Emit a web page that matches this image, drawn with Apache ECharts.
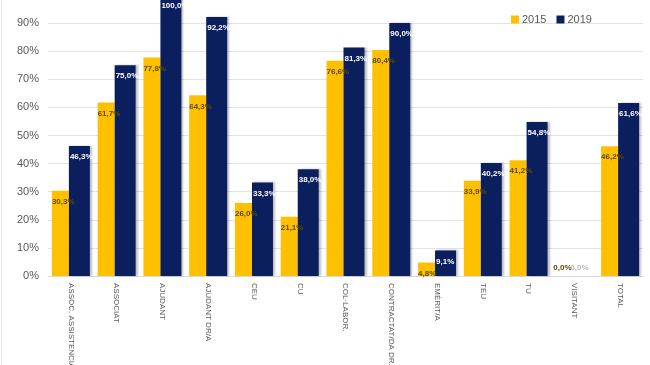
<!DOCTYPE html>
<html>
<head>
<meta charset="utf-8">
<script src="https://cdn.jsdelivr.net/npm/echarts@6/dist/echarts.min.js"></script>
<style>html,body{margin:0;padding:0;background:#fff;}#c{width:650px;height:365px;}</style>
</head>
<body>
<div id="c"></div>
<script>
const categories = ['ASSOC. ASSISTENCIAL', 'ASSOCIAT', 'AJUDANT', 'AJUDANT DR/A', 'CEU', 'CU', 'COL·LABOR.', 'CONTRACTAT/DA DR.', 'EMÈRIT/A', 'TEU', 'TU', 'VISITANT', 'TOTAL'];
const values2015 = [30.3, 61.7, 77.8, 64.3, 26.0, 21.1, 76.6, 80.4, 4.8, 33.9, 41.2, 0.0, 46.2];
const values2019 = [46.3, 75.0, 100.0, 92.2, 33.3, 38.0, 81.3, 90.0, 9.1, 40.2, 54.8, 0.0, 61.6];
const yTicks = [0, 10, 20, 30, 40, 50, 60, 70, 80, 90, 100];

const fmt = v => v.toFixed(1).replace('.', ',') + '%';
const labelFont = 'Liberation Sans Narrow, Arial Narrow, sans-serif';

function buildData(vals, zeroColor) {
  return vals.map(v => v === 0
    ? { value: v, label: { position: [-2, -12], color: zeroColor } }
    : v);
}

const chart = echarts.init(document.getElementById('c'), null, { renderer: 'canvas' });
chart.setOption({
  animation: false,
  backgroundColor: '#ffffff',
  textStyle: { fontFamily: 'Liberation Sans, Arial, sans-serif' },
  graphic: [{
    type: 'line', shape: { x1: 1.5, y1: 0, x2: 1.5, y2: 365 },
    style: { stroke: '#e6e6e6', lineWidth: 1 }, silent: true
  }],
  legend: {
    data: ['2015', '2019'],
    left: 506, top: 9,
    itemWidth: 8, itemHeight: 8, itemGap: 10,
    icon: 'rect',
    textStyle: { color: '#595959', fontSize: 11, padding: [0, 0, 0, -2] }
  },
  grid: { left: 48, right: 7, top: -5, bottom: 89, containLabel: false, outerBoundsMode: 'none' },
  xAxis: {
    type: 'category',
    data: categories,
    axisLine: { show: true, lineStyle: { color: '#d9d9d9' } },
    axisTick: { show: false },
    axisLabel: { rotate: -90, interval: 0, fontSize: 8, color: '#595959', margin: 7, overflow: 'none', width: 300 }
  },
  yAxis: {
    type: 'value',
    min: yTicks[0], max: yTicks[yTicks.length - 1], interval: 10,
    axisLine: { show: false },
    axisTick: { show: false },
    splitLine: { lineStyle: { color: '#e3e3e3', width: 1 } },
    axisLabel: { formatter: v => v + '%', fontSize: 11, color: '#595959', margin: 9 }
  },
  series: [
    {
      name: '2015', type: 'bar',
      data: buildData(values2015, '#5a4a00'),
      barWidth: 17, barGap: '0%',
      itemStyle: { color: '#FFC000' },
      label: {
        show: true, position: [0, 7], formatter: p => fmt(p.value),
        color: '#5e4a00', fontSize: 8, fontWeight: 'bold', fontFamily: labelFont
      }
    },
    {
      name: '2019', type: 'bar',
      data: buildData(values2019, '#b8b8b8'),
      barWidth: 21,
      itemStyle: { color: '#0B1F5E', shadowColor: 'rgba(0,0,0,0.25)', shadowBlur: 2, shadowOffsetX: 2 },
      label: {
        show: true, position: [1, 7], formatter: p => fmt(p.value),
        color: '#ffffff', fontSize: 8, fontWeight: 'bold', fontFamily: labelFont
      }
    }
  ]
});
</script>
</body>
</html>
